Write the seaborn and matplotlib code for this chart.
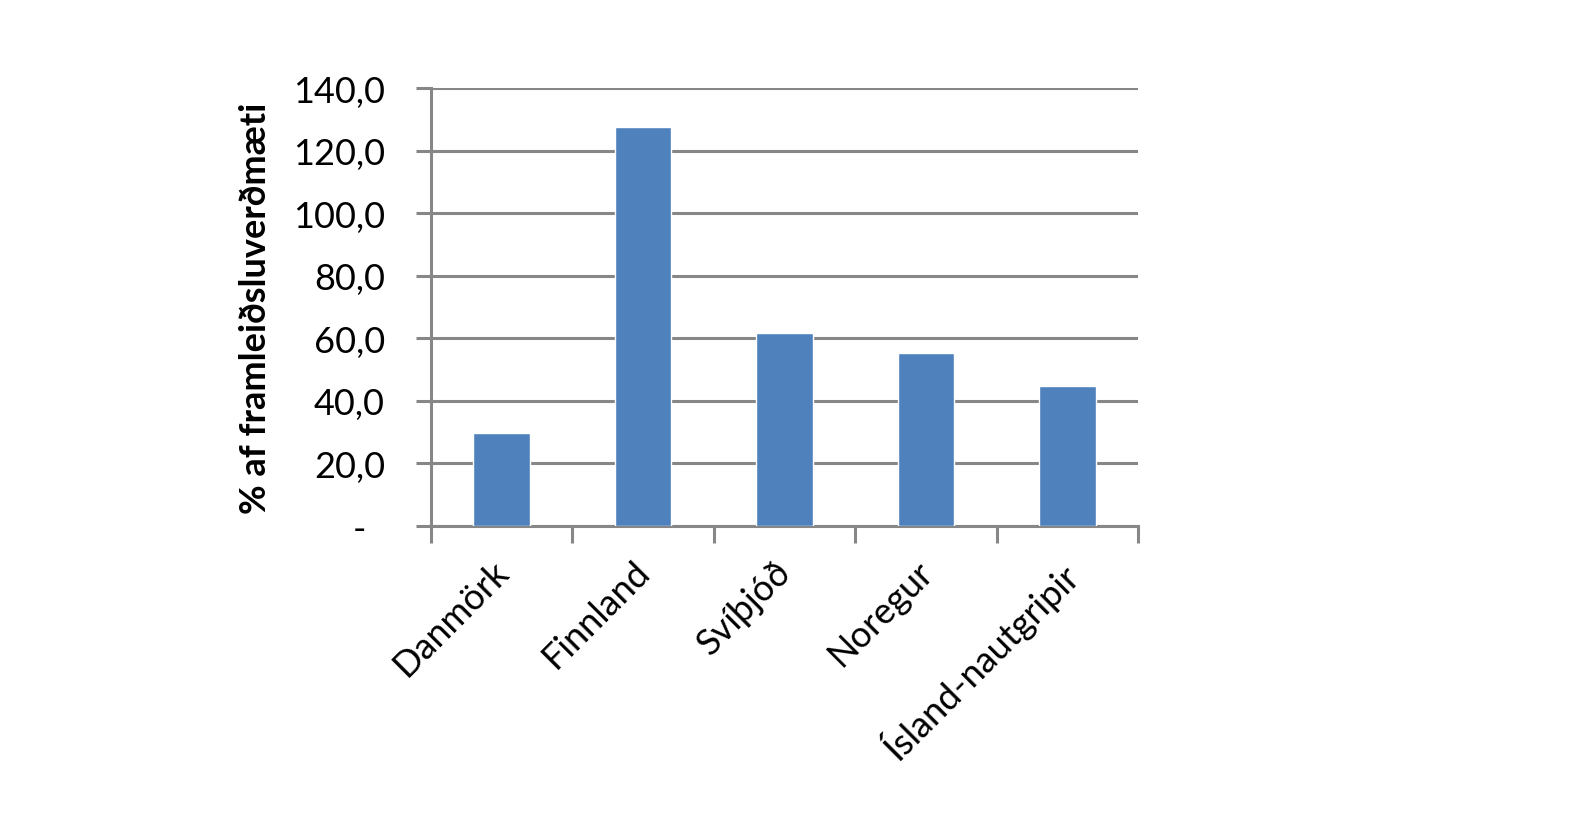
import matplotlib
matplotlib.use('Agg')
import matplotlib.pyplot as plt
import matplotlib.ticker as mtick
import matplotlib.transforms as mtrans
import pandas as pd
import seaborn as sns

countries = ['Danmörk', 'Finnland', 'Svíþjóð', 'Noregur', 'Ísland-nautgripir']
values = [29.6, 127.4, 61.6, 55.2, 44.8]
yticks = [0, 20, 40, 60, 80, 100, 120, 140]

df = pd.DataFrame({'land': countries, 'hlutfall': values})

sns.set_style('white')
plt.rcParams['font.family'] = ['Lato', 'DejaVu Sans']
plt.rcParams['text.color'] = 'black'
plt.rcParams['xtick.labelcolor'] = 'black'
plt.rcParams['ytick.labelcolor'] = 'black'
plt.rcParams['axes.labelcolor'] = 'black'

fig = plt.figure(figsize=(15.82, 8.28), dpi=100)
ax = fig.add_axes([0.2724, 0.3635, 0.4469, 0.529])

sns.barplot(data=df, x='land', y='hlutfall', color='#4F81BD', width=0.4,
            saturation=1, ax=ax, zorder=3)

grid_c = '#878787'
ax.set_ylim(0, 140)
ax.set_yticks(yticks)
# zero shown as a dash, like the accounting format
ax.yaxis.set_major_formatter(mtick.FuncFormatter(
    lambda v, p: '-  ' if v == 0 else f'{v:.1f}'.replace('.', ',')))
ax.grid(axis='y', color=grid_c, lw=2.2, zorder=0)
ax.set_xlim(-0.5, len(countries) - 0.5)

for s in ['top', 'right']:
    ax.spines[s].set_visible(False)
for s in ['left', 'bottom']:
    ax.spines[s].set_color(grid_c)
    ax.spines[s].set_linewidth(2.2)

# x ticks sit between categories
ax.set_xticks([i - 0.5 for i in range(len(countries) + 1)], minor=True)
ax.tick_params(axis='x', which='minor', length=12, width=2.2, color=grid_c,
               direction='out', bottom=True)
ax.tick_params(axis='x', which='major', length=0, pad=20)
ax.tick_params(axis='y', length=11, width=2.2, color=grid_c, direction='out',
               left=True, pad=22, labelsize=26)
ax.set_xticks(range(len(countries)))
ax.set_xticklabels(countries, rotation=45, ha='right', rotation_mode='anchor',
                   fontsize=26)
shift = mtrans.ScaledTranslation(-10 / 100, 0, fig.dpi_scale_trans)
for lbl in ax.get_xticklabels():
    lbl.set_transform(lbl.get_transform() + shift)

ax.set_xlabel('')
ax.set_ylabel('% af framleiðsluverðmæti', fontsize=26, fontweight='bold',
              labelpad=15)

fig.savefig('out.png', dpi=100, facecolor='white')
